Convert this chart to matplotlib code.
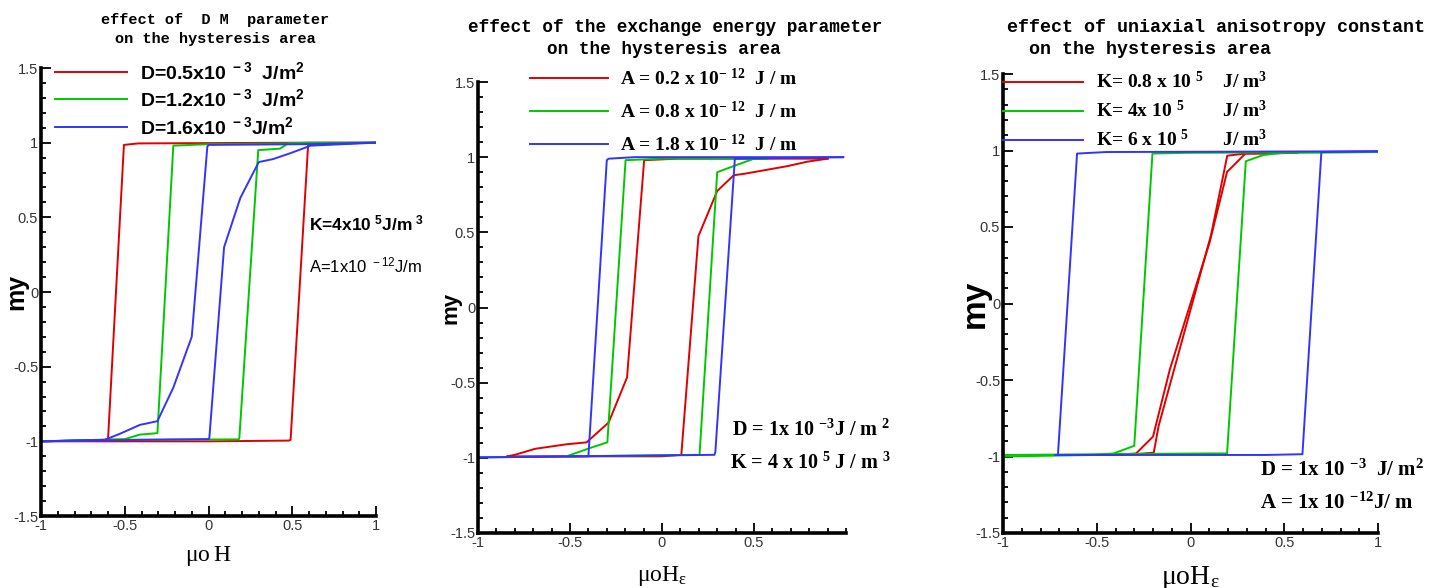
import matplotlib
matplotlib.use("Agg")
import matplotlib.pyplot as plt
from matplotlib.ticker import MultipleLocator

# ---- DM parameter loops (descending branch, then ascending branch)
D05_down_h = [1.0, 0.6, -0.42, -0.505, -0.60, -1.0]
D05_down_m = [1.0, 1.0, 0.995, 0.985, -0.99, -1.0]
D05_up_h = [-1.0, 0.0, 0.48, 0.49, 0.595, 1.0]
D05_up_m = [-1.0, -1.0, -0.995, -0.99, 0.99, 1.0]

D12_down_h = [1.0, 0.0, -0.21, -0.305, -0.41, -0.50, -1.0]
D12_down_m = [1.0, 0.99, 0.98, -0.945, -0.955, -0.985, -1.0]
D12_up_h = [-1.0, -0.6, 0.18, 0.184, 0.297, 0.427, 0.475, 0.60, 1.0]
D12_up_m = [-1.0, -0.99, -0.987, -0.98, 0.95, 0.96, 0.995, 1.0, 1.0]

D16_down_h = [1.0, 0.6, 0.0, -0.007, -0.10, -0.21, -0.305, -0.41, -0.53, -0.62, -1.0]
D16_down_m = [1.0, 0.99, 0.985, 0.973, -0.30, -0.64, -0.865, -0.89, -0.95, -0.99, -1.0]
D16_up_h = [-1.0, -0.4, 0.0, 0.005, 0.093, 0.19, 0.30, 0.385, 0.49, 0.61, 1.0]
D16_up_m = [-1.0, -0.99, -0.985, -0.978, 0.30, 0.63, 0.87, 0.89, 0.93, 0.98, 1.0]

# ---- exchange energy loops
A02_down_h = [0.90, 0.087, -0.097, -0.19, -0.29, -0.41, -0.52, -0.69, -0.80, -0.84]
A02_down_m = [0.99, 0.99, 0.98, -0.465, -0.765, -0.897, -0.91, -0.94, -0.98, -0.99]
A02_up_h = [-0.84, 0.0, 0.105, 0.198, 0.30, 0.39, 0.45, 0.68, 0.79, 0.90]
A02_up_m = [-0.99, -0.99, -0.98, 0.475, 0.775, 0.88, 0.89, 0.94, 0.97, 0.99]

A08_down_h = [0.57, 0.0, -0.198, -0.297, -0.38, -0.508]
A08_down_m = [0.99, 0.99, 0.98, -0.897, -0.93, -0.985]
A08_up_h = [-0.508, 0.204, 0.30, 0.41, 0.50, 0.57]
A08_up_m = [-0.99, -0.98, 0.90, 0.95, 0.99, 0.99]

A18_down_h = [0.985, -0.15, -0.29, -0.30, -0.40, -1.0]
A18_down_m = [1.0, 1.0, 0.99, 0.98, -0.99, -0.997]
A18_up_h = [-1.0, 0.285, 0.29, 0.396, 0.985]
A18_up_m = [-0.997, -0.98, -0.96, 0.99, 1.0]

# ---- uniaxial anisotropy loops
K08_down_h = [0.57, 0.40, 0.293, 0.195, 0.102, -0.11, -0.20, -0.29, -0.41, -0.52]
K08_down_m = [0.985, 0.98, 0.98, 0.86, 0.40, -0.43, -0.87, -0.98, -0.99, -0.99]
K08_up_h = [-0.52, -0.30, -0.196, -0.17, 0.11, 0.196, 0.293, 0.57]
K08_up_m = [-0.99, -0.985, -0.975, -0.80, 0.45, 0.966, 0.98, 0.985]

K4_down_h = [1.0, -0.02, -0.203, -0.30, -0.41, -0.52, -1.0]
K4_down_m = [0.99, 0.985, 0.98, -0.93, -0.98, -0.99, -1.0]
K4_up_h = [-1.0, 0.085, 0.195, 0.295, 0.387, 0.49, 1.0]
K4_up_m = [-0.99, -0.98, -0.98, 0.93, 0.97, 0.985, 0.99]

K6_down_h = [1.0, -0.45, -0.605, -0.707, -0.72]
K6_down_m = [0.995, 0.99, 0.98, -0.99, -0.99]
K6_up_h = [-0.72, 0.40, 0.597, 0.698, 1.0]
K6_up_m = [-0.99, -0.99, -0.985, 0.99, 0.995]

RED, GREEN, BLUE = "#e00000", "#00c800", "#3333ff"

y_ticks = [-1.5, -1, -0.5, 0, 0.5, 1, 1.5]
y_ticklabels = ["-1.5", "-1", "-0.5", "0", "0.5", "1", "1.5"]
x_ticks = [-1, -0.5, 0, 0.5, 1]
x_ticklabels = ["-1", "-0.5", "0", "0.5", "1"]

W, H = 1446, 588
fig = plt.figure(figsize=(W / 100, H / 100), dpi=100)


def px_axes(left, right, top, bottom):
    return fig.add_axes([left / W, 1 - bottom / H, (right - left) / W, (bottom - top) / H])


def style(ax, xmax):
    ax.set_xlim(-1, xmax)
    ax.set_ylim(-1.5, 1.5)
    for s in ("top", "right"):
        ax.spines[s].set_visible(False)
    for s in ("left", "bottom"):
        ax.spines[s].set_linewidth(2.6)
    ax.set_xticks(x_ticks, x_ticklabels)
    ax.set_yticks(y_ticks, y_ticklabels)
    ax.xaxis.set_minor_locator(MultipleLocator(0.1))
    ax.yaxis.set_minor_locator(MultipleLocator(0.1))
    ax.tick_params(which="both", direction="in", width=1.3, color="black",
                   labelsize=10.5, labelcolor="#333333", pad=2)
    ax.tick_params(which="major", length=7)
    ax.tick_params(which="minor", length=3.5)
    for lbl in ax.get_xticklabels() + ax.get_yticklabels():
        lbl.set_fontfamily("Liberation Sans")


def loop(ax, dh, dm, uh, um, color):
    ln, = ax.plot(dh, dm, color=color, lw=1.4)
    ax.plot(uh, um, color=color, lw=1.4)
    return ln


# ------------- panel 1: DM parameter
ax1 = px_axes(41, 376, 68, 516)
style(ax1, 1.0)
l1 = loop(ax1, D05_down_h, D05_down_m, D05_up_h, D05_up_m, RED)
l2 = loop(ax1, D12_down_h, D12_down_m, D12_up_h, D12_up_m, GREEN)
l3 = loop(ax1, D16_down_h, D16_down_m, D16_up_h, D16_up_m, BLUE)
ax1.legend([l1, l2, l3],
           [r"D=0.5x10$\mathregular{^{\ -3}}$  J/m$\mathregular{^2}$",
            r"D=1.2x10$\mathregular{^{\ -3}}$  J/m$\mathregular{^2}$",
            r"D=1.6x10$\mathregular{^{\ -3}}$J/m$\mathregular{^2}$"],
           loc="upper left", bbox_to_anchor=(0.042, 1.016), frameon=False,
           handlelength=3.7, handletextpad=0.65, labelspacing=0.29,
           borderpad=0, borderaxespad=0,
           prop={"family": "Liberation Sans", "weight": "bold", "size": 14})
ax1.set_ylabel("my", fontfamily="Liberation Sans", fontweight="bold", fontsize=18)
ax1.yaxis.set_label_coords(-0.039, 0.5)
ax1.set_xlabel(r"$\mathregular{\mu o\,H}$", fontfamily="Liberation Serif", fontsize=17, labelpad=8)
fig.text(215 / W, 1 - 20 / H, "effect of  D M  parameter", ha="center", va="center",
         fontfamily="Liberation Mono", fontweight="bold", fontsize=11)
fig.text(215 / W, 1 - 39 / H, "on the hysteresis area", ha="center", va="center",
         fontfamily="Liberation Mono", fontweight="bold", fontsize=11)
fig.text(309 / W, 1 - 223 / H, r"K=4x10$\mathregular{^{\ 5}}$J/m$\mathregular{^{\ 3}}$",
         ha="left", va="center", fontfamily="Liberation Sans", fontweight="bold", fontsize=12.5)
fig.text(309 / W, 1 - 265 / H, r"A=1x10$\mathregular{^{\ -12}}$J/m",
         ha="left", va="center", fontfamily="Liberation Sans", fontsize=12)

# ------------- panel 2: exchange energy
ax2 = px_axes(478, 846, 82, 533)
style(ax2, 0.985)
ax2.set_xticks(x_ticks[:-1], x_ticklabels[:-1])
l1 = loop(ax2, A02_down_h, A02_down_m, A02_up_h, A02_up_m, RED)
l2 = loop(ax2, A08_down_h, A08_down_m, A08_up_h, A08_up_m, GREEN)
l3 = loop(ax2, A18_down_h, A18_down_m, A18_up_h, A18_up_m, BLUE)
ax2.legend([l1, l2, l3],
           [r"A = 0.2 x 10$\mathregular{^{-\ 12}}$  J / m",
            r"A = 0.8 x 10$\mathregular{^{-\ 12}}$  J / m",
            r"A = 1.8 x 10$\mathregular{^{-\ 12}}$  J / m"],
           loc="upper left", bbox_to_anchor=(0.141, 1.031), frameon=False,
           handlelength=4.0, handletextpad=0.65, labelspacing=0.6,
           borderpad=0, borderaxespad=0,
           prop={"family": "Liberation Serif", "weight": "bold", "size": 14})
ax2.set_ylabel("my", fontfamily="Liberation Sans", fontweight="bold", fontsize=16)
ax2.yaxis.set_label_coords(-0.046, 0.5)
ax2.set_xlabel(r"$\mathregular{\mu o H_{\epsilon}}$", fontfamily="Liberation Serif", fontsize=17, labelpad=10)
fig.text(675 / W, 1 - 27 / H, "effect of the exchange energy parameter", ha="center", va="center",
         fontfamily="Liberation Mono", fontweight="bold", fontsize=12.8)
fig.text(664 / W, 1 - 50 / H, "on the hysteresis area", ha="center", va="center",
         fontfamily="Liberation Mono", fontweight="bold", fontsize=12.8)
fig.text(732 / W, 1 - 430 / H, r"D = 1x 10 $\mathregular{^{-3}}$J / m $\mathregular{^2}$",
         ha="left", va="center", fontfamily="Liberation Serif", fontweight="bold", fontsize=14.5)
fig.text(730 / W, 1 - 463 / H, r"K = 4 x 10$\mathregular{^{\ 5}}$ J / m $\mathregular{^3}$",
         ha="left", va="center", fontfamily="Liberation Serif", fontweight="bold", fontsize=14.5)

# ------------- panel 3: uniaxial anisotropy
ax3 = px_axes(1003, 1378, 74, 533)
style(ax3, 1.0)
l1 = loop(ax3, K08_down_h, K08_down_m, K08_up_h, K08_up_m, RED)
l2 = loop(ax3, K4_down_h, K4_down_m, K4_up_h, K4_up_m, GREEN)
l3 = loop(ax3, K6_down_h, K6_down_m, K6_up_h, K6_up_m, BLUE)
ax3.legend([l1, l2, l3],
           [r"K= 0.8 x 10 $\mathregular{^{5}}$    J/ m$\mathregular{^{3}}$",
            r"K= 4x 10 $\mathregular{^{5}}$        J/ m$\mathregular{^{3}}$",
            r"K= 6 x 10 $\mathregular{^{5}}$       J/ m$\mathregular{^{3}}$"],
           loc="upper left", bbox_to_anchor=(0.0, 1.006), frameon=False,
           handlelength=4.1, handletextpad=0.7, labelspacing=0.4,
           borderpad=0, borderaxespad=0,
           prop={"family": "Liberation Serif", "weight": "bold", "size": 14})
ax3.set_ylabel("my", fontfamily="Liberation Sans", fontweight="bold", fontsize=24)
ax3.yaxis.set_label_coords(-0.033, 0.5)
ax3.set_xlabel(r"$\mathregular{\mu o H_{\epsilon}}$", fontfamily="Liberation Serif", fontsize=20, labelpad=10)
fig.text(1007 / W, 1 - 27 / H, "effect of uniaxial anisotropy constant", ha="left", va="center",
         fontfamily="Liberation Mono", fontweight="bold", fontsize=13.2)
fig.text(1029 / W, 1 - 50 / H, "on the hysteresis area", ha="left", va="center",
         fontfamily="Liberation Mono", fontweight="bold", fontsize=13.2)
fig.text(1260 / W, 1 - 470 / H, r"D = 1x 10 $\mathregular{^{-3}}$  J/ m$\mathregular{^{2}}$",
         ha="left", va="center", fontfamily="Liberation Serif", fontweight="bold", fontsize=15)
fig.text(1260 / W, 1 - 503 / H, r"A = 1x 10 $\mathregular{^{-12}}$J/ m",
         ha="left", va="center", fontfamily="Liberation Serif", fontweight="bold", fontsize=15)

fig.savefig("out.png", dpi=100)
